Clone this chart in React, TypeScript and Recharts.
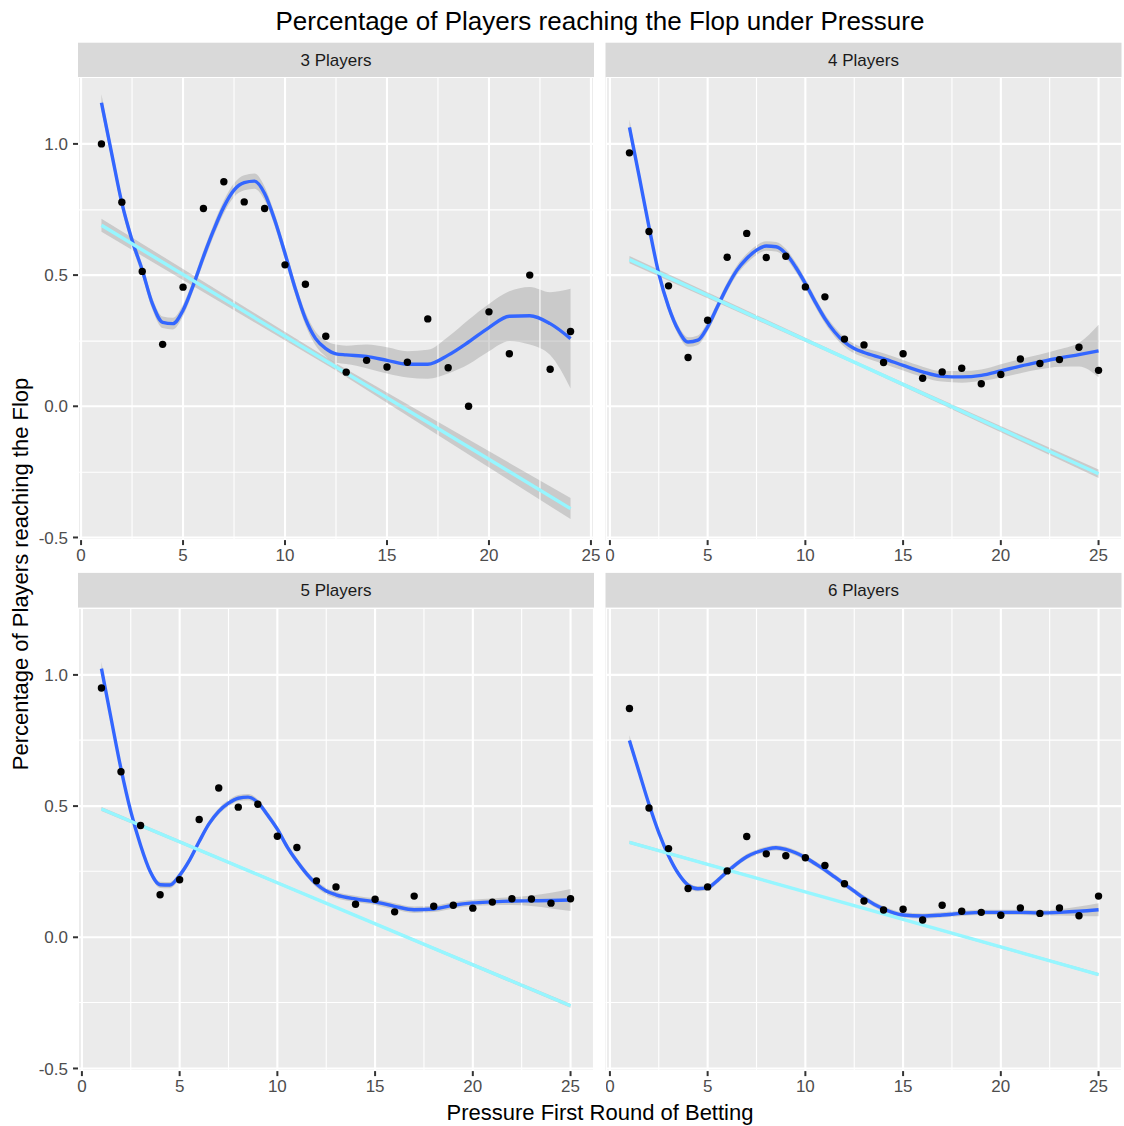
import { ComposedChart, Scatter, Line, Area, XAxis, YAxis, CartesianGrid, ReferenceLine } from "recharts";

// observed points (share of players reaching the flop) per pressure level
const X24 = [1, 2, 3, 4, 5, 6, 7, 8, 9, 10, 11, 12, 13, 14, 15, 16, 17, 18, 19, 20, 21, 22, 23, 24];
const X25 = [1, 2, 3, 4, 5, 6, 7, 8, 9, 10, 11, 12, 13, 14, 15, 16, 17, 18, 19, 20, 21, 22, 23, 24, 25];

const PTS_3 = [1.0, 0.778, 0.514, 0.236, 0.454, 0.754, 0.856, 0.779, 0.754, 0.539, 0.465, 0.267, 0.13, 0.175, 0.15, 0.168, 0.333, 0.147, 0.0, 0.36, 0.2, 0.5, 0.141, 0.285];
const PTS_4 = [0.966, 0.666, 0.459, 0.186, 0.328, 0.568, 0.659, 0.567, 0.572, 0.455, 0.417, 0.256, 0.234, 0.167, 0.2, 0.107, 0.131, 0.145, 0.086, 0.121, 0.18, 0.163, 0.178, 0.225, 0.137];
const PTS_5 = [0.95, 0.631, 0.426, 0.162, 0.219, 0.449, 0.569, 0.496, 0.507, 0.385, 0.342, 0.215, 0.192, 0.126, 0.145, 0.097, 0.157, 0.118, 0.122, 0.111, 0.134, 0.147, 0.146, 0.13, 0.147];
const PTS_6 = [0.872, 0.493, 0.338, 0.186, 0.192, 0.253, 0.384, 0.318, 0.311, 0.303, 0.274, 0.204, 0.138, 0.104, 0.107, 0.066, 0.122, 0.099, 0.095, 0.084, 0.112, 0.091, 0.112, 0.082, 0.157];

// loess curve
const FIT_X24 = [1, 1.5, 2, 2.5, 3, 3.5, 4, 4.5, 5, 5.5, 6, 6.5, 7, 7.5, 8, 8.5, 9, 9.5, 10, 10.5, 11, 11.5, 12, 12.5, 13, 14, 15, 16, 17, 18, 19, 20, 21, 22, 23, 24];
const FIT_X25 = [1, 1.5, 2, 2.5, 3, 3.5, 4, 4.5, 5, 5.5, 6, 6.5, 7, 7.5, 8, 8.5, 9, 9.5, 10, 10.5, 11, 11.5, 12, 12.5, 13, 14, 15, 16, 17, 18, 19, 20, 21, 22, 23, 24, 25];

const FIT_3 = [1.157, 0.964, 0.775, 0.633, 0.519, 0.39, 0.32, 0.315, 0.366, 0.461, 0.57, 0.671, 0.76, 0.824, 0.852, 0.858, 0.811, 0.709, 0.582, 0.449, 0.334, 0.258, 0.22, 0.2, 0.196, 0.19, 0.175, 0.16, 0.16, 0.195, 0.245, 0.3, 0.343, 0.345, 0.315, 0.258];
const SE_3 = [0.032, 0.025, 0.023, 0.022, 0.022, 0.022, 0.022, 0.022, 0.022, 0.022, 0.023, 0.023, 0.024, 0.026, 0.029, 0.029, 0.026, 0.024, 0.024, 0.024, 0.024, 0.026, 0.03, 0.035, 0.035, 0.045, 0.05, 0.05, 0.055, 0.07, 0.085, 0.09, 0.095, 0.11, 0.12, 0.19];

const FIT_4 = [1.063, 0.875, 0.684, 0.506, 0.379, 0.29, 0.245, 0.252, 0.303, 0.379, 0.455, 0.519, 0.563, 0.595, 0.611, 0.608, 0.582, 0.531, 0.468, 0.398, 0.334, 0.283, 0.245, 0.22, 0.205, 0.182, 0.156, 0.131, 0.114, 0.112, 0.118, 0.135, 0.153, 0.169, 0.184, 0.197, 0.211];
const SE_4 = [0.03, 0.02, 0.018, 0.018, 0.018, 0.018, 0.018, 0.018, 0.018, 0.018, 0.018, 0.018, 0.018, 0.018, 0.018, 0.018, 0.018, 0.018, 0.018, 0.018, 0.018, 0.018, 0.018, 0.018, 0.018, 0.02, 0.02, 0.02, 0.02, 0.022, 0.022, 0.025, 0.027, 0.028, 0.033, 0.045, 0.1];

const FIT_5 = [1.024, 0.831, 0.642, 0.48, 0.351, 0.25, 0.2, 0.199, 0.236, 0.293, 0.365, 0.432, 0.48, 0.511, 0.53, 0.534, 0.514, 0.466, 0.412, 0.345, 0.29, 0.242, 0.203, 0.176, 0.162, 0.146, 0.135, 0.118, 0.105, 0.108, 0.122, 0.131, 0.135, 0.138, 0.139, 0.14, 0.142];
const SE_5 = [0.025, 0.014, 0.012, 0.012, 0.012, 0.012, 0.012, 0.012, 0.012, 0.012, 0.012, 0.012, 0.012, 0.012, 0.012, 0.012, 0.012, 0.012, 0.012, 0.012, 0.012, 0.012, 0.012, 0.012, 0.012, 0.012, 0.012, 0.012, 0.012, 0.012, 0.012, 0.012, 0.013, 0.015, 0.02, 0.03, 0.042];

const FIT_6 = [0.75, 0.628, 0.507, 0.399, 0.311, 0.243, 0.199, 0.185, 0.189, 0.216, 0.25, 0.281, 0.307, 0.324, 0.335, 0.341, 0.335, 0.322, 0.304, 0.281, 0.257, 0.23, 0.203, 0.176, 0.149, 0.108, 0.085, 0.081, 0.085, 0.091, 0.095, 0.095, 0.095, 0.093, 0.095, 0.099, 0.105];
const SE_6 = [0.02, 0.012, 0.01, 0.01, 0.01, 0.01, 0.01, 0.01, 0.01, 0.01, 0.01, 0.01, 0.01, 0.01, 0.01, 0.01, 0.01, 0.01, 0.01, 0.01, 0.01, 0.01, 0.01, 0.01, 0.01, 0.01, 0.01, 0.01, 0.01, 0.01, 0.01, 0.01, 0.01, 0.01, 0.012, 0.018, 0.025];

// linear fit: start, middle, end
const LM_X24 = [1, 12.5, 24];
const LM_X25 = [1, 13, 25];
const LM_3 = [0.69, 0.15, -0.39];
const LM_SE_3 = [0.025, 0.014, 0.04];
const LM_4 = [0.559, 0.151, -0.257];
const LM_SE_4 = [0.014, 0.006, 0.016];
const LM_5 = [0.489, 0.114, -0.261];
const LM_SE_5 = [0.008, 0.004, 0.008];
const LM_6 = [0.362, 0.11, -0.142];
const LM_SE_6 = [0.006, 0.003, 0.006];

const MAJOR_X = [0, 5, 10, 15, 20, 25];
const MINOR_X = [2.5, 7.5, 12.5, 17.5, 22.5];
const MAJOR_Y = [-0.5, 0, 0.5, 1.0];
const MINOR_Y = [-0.25, 0.25, 0.75];
const Y_DOMAIN = [-0.51, 1.255];

const FONT = "'Liberation Sans', Arial, sans-serif";
const Y_W = 60;
const X_H = 30;
const PAD_R = 20;
const PANEL_W = 516;
const PANEL_H = 463.1;

const toPts = (xs: number[], ys: number[]) => xs.map((x, i) => ({ x, y: ys[i] }));
const toBand = (xs: number[], ys: number[], se: number[]) =>
  xs.map((x, i) => ({ x, y: ys[i], band: [ys[i] - se[i], ys[i] + se[i]] }));

// panel backgrounds (drawn behind the charts) with their minor horizontal rows
const PANELS = [
  { label: "3 Players", x: 78, top: 77.4 },
  { label: "4 Players", x: 605.5, top: 77.4 },
  { label: "5 Players", x: 78, top: 607.6 },
  { label: "6 Players", x: 605.5, top: 607.6 },
];
const rowY = (top: number, v: number) => top + ((Y_DOMAIN[1] - v) / (Y_DOMAIN[1] - Y_DOMAIN[0])) * PANEL_H;

const Dot = (props: any) => <circle cx={props.cx} cy={props.cy} r={3.7} fill="#000000" />;

function Panel({ left, top, showY, xDomain, pts, fit, lm }: any) {
  const w = PANEL_W + (showY ? Y_W : 0) + PAD_R;
  const h = PANEL_H + X_H;
  const tickStyle = { fill: "#4D4D4D", fontSize: 17, fontFamily: FONT };
  return (
    <div style={{ position: "absolute", left: left - (showY ? Y_W : 0), top, width: w, height: h }}>
      <ComposedChart width={w} height={h} margin={{ top: 0, right: PAD_R, bottom: 0, left: 0 }}>
        <CartesianGrid stroke="#FFFFFF" strokeWidth={2.1} />
        <XAxis
          type="number"
          dataKey="x"
          domain={xDomain}
          ticks={MAJOR_X}
          height={X_H}
          axisLine={false}
          tickLine={{ stroke: "#333333", strokeWidth: 2 }}
          tickSize={5}
          tickMargin={4}
          tick={tickStyle}
          interval={0}
        />
        <YAxis
          type="number"
          domain={Y_DOMAIN}
          ticks={MAJOR_Y}
          width={Y_W}
          hide={!showY}
          axisLine={false}
          tickLine={{ stroke: "#333333", strokeWidth: 2 }}
          tickSize={5}
          tickMargin={5}
          tick={tickStyle}
          interval={0}
          tickFormatter={(v: number) => v.toFixed(1)}
        />
        {MINOR_X.map((v) => (
          <ReferenceLine key={"mx" + v} x={v} stroke="#FFFFFF" strokeWidth={1.1} />
        ))}
        <Scatter data={pts} dataKey="y" shape={Dot} isAnimationActive={false} />
        <Area data={fit} dataKey="band" type="monotone" stroke="none" fill="#999999" fillOpacity={0.4} isAnimationActive={false} />
        <Line data={fit} dataKey="y" type="monotone" stroke="#3366FF" strokeWidth={3.4} dot={false} activeDot={false} isAnimationActive={false} />
        <Area data={lm} dataKey="band" type="linear" stroke="none" fill="#999999" fillOpacity={0.4} isAnimationActive={false} />
        <Line data={lm} dataKey="y" type="linear" stroke="#96F6FF" strokeWidth={3.4} dot={false} activeDot={false} isAnimationActive={false} />
      </ComposedChart>
    </div>
  );
}

export default function App() {
  const dom1 = [-0.15, 25.15];
  const dom = [-0.2, 26.2];
  return (
    <div style={{ position: "absolute", left: 0, top: 0, width: 1124, height: 1126, background: "#FFFFFF", fontFamily: FONT }}>
      <svg width={1124} height={1126} style={{ position: "absolute", left: 0, top: 0 }}>
        <text x={600} y={29.5} textAnchor="middle" fontSize={26} fill="#000000" fontFamily={FONT}>
          Percentage of Players reaching the Flop under Pressure
        </text>
        {PANELS.map((p) => (
          <g key={p.label}>
            <rect x={p.x} y={p.top - 34.7} width={PANEL_W} height={34.7} fill="#D9D9D9" />
            <text x={p.x + PANEL_W / 2} y={p.top - 11.7} textAnchor="middle" fontSize={17} fill="#1A1A1A" fontFamily={FONT}>
              {p.label}
            </text>
            <rect x={p.x} y={p.top} width={PANEL_W} height={PANEL_H} fill="#EBEBEB" />
            {MINOR_Y.map((v) => (
              <line key={v} x1={p.x} x2={p.x + PANEL_W} y1={rowY(p.top, v)} y2={rowY(p.top, v)} stroke="#FFFFFF" strokeWidth={1.1} />
            ))}
          </g>
        ))}
        <text x={600} y={1120} textAnchor="middle" fontSize={22} fill="#000000" fontFamily={FONT}>
          Pressure First Round of Betting
        </text>
        <text x={27.5} y={574} transform="rotate(-90 27.5 574)" textAnchor="middle" fontSize={22} fill="#000000" fontFamily={FONT}>
          Percentage of Players reaching the Flop
        </text>
      </svg>
      <Panel left={78} top={77.4} showY xDomain={dom1} pts={toPts(X24, PTS_3)} fit={toBand(FIT_X24, FIT_3, SE_3)} lm={toBand(LM_X24, LM_3, LM_SE_3)} />
      <Panel left={605.5} top={77.4} showY={false} xDomain={dom} pts={toPts(X25, PTS_4)} fit={toBand(FIT_X25, FIT_4, SE_4)} lm={toBand(LM_X25, LM_4, LM_SE_4)} />
      <Panel left={78} top={607.6} showY xDomain={dom} pts={toPts(X25, PTS_5)} fit={toBand(FIT_X25, FIT_5, SE_5)} lm={toBand(LM_X25, LM_5, LM_SE_5)} />
      <Panel left={605.5} top={607.6} showY={false} xDomain={dom} pts={toPts(X25, PTS_6)} fit={toBand(FIT_X25, FIT_6, SE_6)} lm={toBand(LM_X25, LM_6, LM_SE_6)} />
    </div>
  );
}
